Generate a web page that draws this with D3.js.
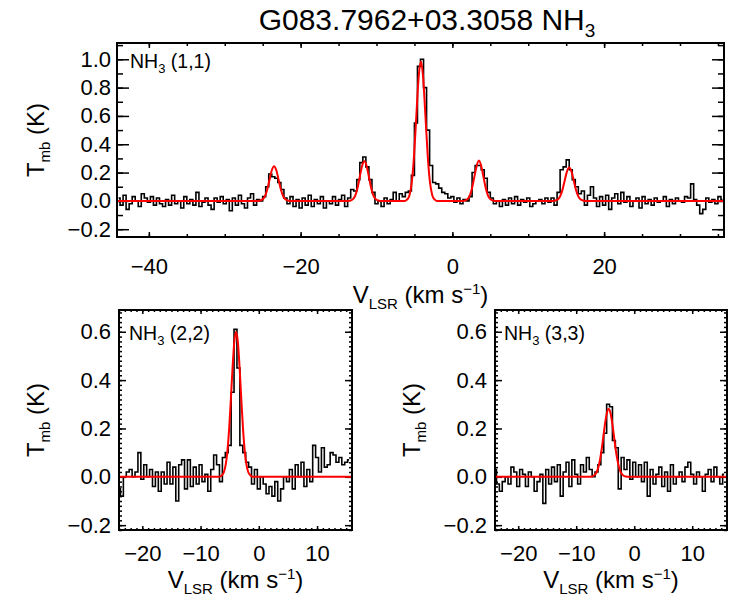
<!DOCTYPE html>
<html>
<head>
  <meta charset="utf-8">
  <title>G083.7962+03.3058 NH3</title>
  <style>
    body { margin: 0; background: #fff; }
    svg text { font-family: "Liberation Sans", Arial, Helvetica, sans-serif; fill: #000; }
    .axis path { display: none; }
    .axis line { stroke: #000; stroke-width: 1.5; }
  </style>
</head>
<body>
  <div id="plot"></div>
  <script src="https://cdn.jsdelivr.net/npm/d3@7/dist/d3.min.js"></script>
  <script>

    // ---- data ----
    // NH3 (1,1): channels start at -44 km/s, 0.4 km/s wide
    let v11Start = -44, v11Step = 0.4;
    let t11 = [
      0.02, -0.03, 0.04, -0.06, -0.02, 0.03, 0.00, -0.04, 0.05, 0.02,
      -0.01, 0.03, -0.03, 0.02, -0.02, -0.04, 0.01, -0.03, 0.04, -0.02,
      0.00, -0.05, 0.03, -0.02, 0.01, -0.03, 0.06, -0.04, -0.01, 0.02,
      -0.03, -0.06, 0.02, -0.01, 0.03, -0.02, 0.01, -0.07, 0.02, -0.03,
      0.04, -0.02, -0.05, 0.02, 0.05, -0.03, 0.01, 0.00, 0.03, 0.10,
      0.19, 0.17, 0.16, 0.13, 0.08, 0.02, -0.02, 0.03, -0.04, 0.01,
      -0.05, 0.02, -0.03, 0.04, -0.04, 0.01, -0.02, 0.03, -0.05, 0.00,
      -0.02, 0.03, -0.03, 0.01, 0.04, -0.04, 0.02, 0.08, 0.07, 0.15,
      0.27, 0.31, 0.24, 0.15, 0.06, -0.02, 0.00, -0.04, 0.02, -0.02,
      0.01, 0.06, 0.00, 0.05, 0.03, 0.06, 0.07, 0.18, 0.55, 0.95,
      1.00, 0.80, 0.50, 0.25, 0.13, 0.12, 0.09, 0.06, 0.05, 0.02,
      0.03, -0.01, 0.02, -0.02, 0.01, 0.00, 0.03, 0.20, 0.25, 0.25,
      0.22, 0.16, 0.06, 0.02, -0.02, 0.00, -0.04, 0.01, -0.03, 0.02,
      -0.02, 0.03, -0.03, 0.01, -0.01, 0.02, -0.04, -0.02, 0.00, 0.01,
      -0.02, 0.02, -0.01, 0.02, -0.03, 0.06, 0.22, 0.24, 0.29, 0.22,
      0.15, 0.10, 0.05, 0.07, -0.03, 0.04, 0.10, 0.02, -0.04, 0.03,
      -0.03, 0.04, -0.06, 0.02, 0.05, -0.02, 0.06, -0.01, 0.03, -0.04,
      0.00, 0.02, -0.05, 0.03, -0.02, 0.01, -0.03, 0.02, -0.01, 0.00,
      0.03, -0.04, 0.01, -0.02, 0.02, 0.00, -0.01, 0.03, 0.02, 0.12,
      0.01, -0.03, -0.09, -0.06, 0.02, -0.01, 0.01, -0.02, 0.03, 0.01
    ];
    let fit11V = [
      -44.2, -25.6, -25.3, -25.0, -24.7, -24.4, -24.1, -23.8, -23.5, -23.2, -22.9, -22.6, -22.3, -22.0, -21.7, -21.4,
      -13.7, -13.4, -13.1, -12.8, -12.5, -12.2, -11.9, -11.6, -11.3, -11.0, -10.7, -10.4, -10.1, -9.8, -9.5,
      -6.25, -5.95, -5.65, -5.35, -5.05, -4.75, -4.45, -4.15, -3.85, -3.55, -3.25, -2.95, -2.65, -2.35, -2.05,
      1.4, 1.7, 2.0, 2.3, 2.6, 2.9, 3.2, 3.5, 3.8, 4.1, 4.4, 4.7, 5.0, 5.3, 5.6,
      13.3, 13.6, 13.9, 14.2, 14.5, 14.8, 15.1, 15.4, 15.7, 16.0, 16.3, 16.6, 16.9, 17.2, 17.5, 35.8
    ];
    let fit11T = [
      0, 0, 0.003, 0.011, 0.033, 0.080, 0.149, 0.216, 0.245, 0.216, 0.149, 0.080, 0.033, 0.011, 0.003, 0,
      0, 0.003, 0.012, 0.038, 0.091, 0.170, 0.247, 0.280, 0.247, 0.170, 0.091, 0.038, 0.012, 0.003, 0,
      0, 0.01, 0.04, 0.13, 0.32, 0.60, 0.87, 0.985, 0.87, 0.60, 0.32, 0.13, 0.04, 0.01, 0,
      0, 0.003, 0.012, 0.038, 0.091, 0.170, 0.247, 0.285, 0.247, 0.170, 0.091, 0.038, 0.012, 0.003, 0,
      0, 0.003, 0.010, 0.032, 0.076, 0.143, 0.207, 0.235, 0.207, 0.143, 0.076, 0.032, 0.010, 0.003, 0, 0
    ];

    // NH3 (2,2) and (3,3): channels start at -24 km/s, 0.5 km/s wide
    let vLowStart = -24, vLowStep = 0.5;
    let t22 = [
      -0.05, -0.08, 0.00, 0.02, 0.03, 0.00, 0.02, 0.10, -0.01, 0.05,
      0.00, 0.03, -0.04, 0.02, -0.06, 0.02, -0.03, 0.06, -0.03, 0.04,
      -0.10, 0.05, 0.07, -0.05, 0.07, -0.04, 0.04, -0.03, 0.05, -0.02,
      0.01, -0.06, 0.03, 0.09, 0.05, -0.02, 0.08, 0.10, 0.13, 0.35,
      0.61, 0.45, 0.13, 0.10, 0.06, 0.04, -0.03, 0.03, -0.05, 0.00,
      -0.03, -0.07, -0.04, -0.08, -0.02, -0.10, -0.05, 0.00, -0.02, 0.03,
      -0.05, 0.05, 0.00, 0.06, -0.04, 0.03, -0.02, 0.13, 0.08, 0.02,
      0.12, 0.04, 0.05, 0.10, 0.09, 0.06, 0.08, 0.05, 0.06, 0.07
    ];
    let fit22V = [
      -24, -6.9, -6.6, -6.3, -6.0, -5.7, -5.4, -5.1, -4.8, -4.5, -4.2, -3.9,
      -3.6, -3.3, -3.0, -2.7, -2.4, -2.1, -1.8, -1.5, -1.2, -0.9, 16
    ];
    let fit22T = [
      0, 0, 0.002, 0.007, 0.019, 0.048, 0.103, 0.195, 0.319, 0.453, 0.559, 0.600,
      0.559, 0.453, 0.319, 0.195, 0.103, 0.048, 0.019, 0.007, 0.002, 0, 0
    ];
    let t33 = [
      0.03, -0.03, -0.06, -0.02, 0.00, -0.03, 0.04, 0.02, -0.04, 0.03,
      0.01, -0.04, 0.02, 0.00, -0.06, -0.02, 0.01, -0.11, 0.03, -0.03,
      0.04, -0.02, 0.05, -0.08, 0.02, 0.06, -0.04, 0.07, 0.01, -0.03,
      0.05, 0.02, 0.08, 0.03, 0.00, 0.02, 0.05, 0.10, 0.18, 0.30,
      0.29, 0.15, 0.12, -0.05, 0.08, 0.03, 0.07, -0.01, 0.06, 0.00,
      0.05, -0.02, 0.06, -0.08, 0.03, -0.03, 0.01, 0.04, -0.04, 0.02,
      -0.06, 0.05, -0.03, 0.00, 0.02, -0.02, 0.04, 0.06, 0.01, -0.03,
      0.02, 0.00, -0.06, 0.01, 0.03, -0.02, 0.04, 0.00, -0.03, 0.01
    ];
    let fit33V = [
      -24, -7.7, -7.4, -7.1, -6.8, -6.5, -6.2, -5.9, -5.6, -5.3, -5.0, -4.7, -4.4,
      -4.1, -3.8, -3.5, -3.2, -2.9, -2.6, -2.3, -2.0, -1.7, -1.4, -1.1, 16
    ];
    let fit33T = [
      0, 0, 0.001, 0.003, 0.008, 0.018, 0.038, 0.070, 0.115, 0.170, 0.224, 0.265, 0.280,
      0.265, 0.224, 0.170, 0.115, 0.070, 0.038, 0.018, 0.008, 0.003, 0.001, 0, 0
    ];

    let xTicksTop = [-40, -20, 0, 20];
    let yTicksTop = [-0.2, 0.0, 0.2, 0.4, 0.6, 0.8, 1.0];
    let xTicksLow = [-20, -10, 0, 10];
    let yTicksLow = [-0.2, 0.0, 0.2, 0.4, 0.6];

    // ---- drawing ----
    let svg = d3.select('#plot')
      .append('svg')
        .attr('width', 750)
        .attr('height', 600);

    function translate(x, y) {
      return 'translate(' + x + ', ' + y + ')';
    }

    function minus(d, digits) {
      return d3.format('.' + digits + 'f')(d).replace('-', '\u2212');
    }

    function channels(start, step, values) {
      return values.map((t, i) => ({v: start + step * i, t: t}));
    }

    function drawPanel(p) {
      let g = svg.append('g').attr('transform', translate(p.left, p.top));

      let x = d3.scaleLinear().domain(p.xDomain).range([0, p.width]);
      let y = d3.scaleLinear().domain(p.yDomain).range([p.height, 0]);

      let clipId = 'clip-' + p.name;
      g.append('clipPath')
        .attr('id', clipId)
        .append('rect')
          .attr('width', p.width)
          .attr('height', p.height);

      // axes: inward ticks on all four sides, labels only bottom and left
      let xMinor = d3.range(Math.ceil(p.xDomain[0] / p.xMinorStep) * p.xMinorStep, p.xDomain[1], p.xMinorStep);
      let yMinor = d3.range(Math.ceil(p.yDomain[0] / p.yMinorStep) * p.yMinorStep, p.yDomain[1], p.yMinorStep);

      let sides = [
        {axis: d3.axisBottom, scale: x, at: translate(0, p.height), major: p.xTicks, minor: xMinor, len: p.xTickLen, label: true, digits: 0},
        {axis: d3.axisTop, scale: x, at: translate(0, 0), major: p.xTicks, minor: xMinor, len: p.xTickLen, label: false},
        {axis: d3.axisLeft, scale: y, at: translate(0, 0), major: p.yTicks, minor: yMinor, len: p.yTickLen, label: true, digits: 1},
        {axis: d3.axisRight, scale: y, at: translate(p.width, 0), major: p.yTicks, minor: yMinor, len: p.yTickLen, label: false}
      ];

      sides.forEach(s => {
        g.append('g')
          .attr('class', 'axis')
          .attr('transform', s.at)
          .call(s.axis(s.scale).tickValues(s.minor).tickSize(-s.len[1]).tickFormat(''));

        let major = g.append('g')
          .attr('class', 'axis')
          .attr('transform', s.at)
          .call(s.axis(s.scale)
            .tickValues(s.major)
            .tickSize(-s.len[0])
            .tickPadding(s.axis === d3.axisBottom ? p.xLabelPad : p.yLabelPad)
            .tickFormat(s.label ? (d => minus(d, s.digits)) : ''));
        major.attr('font-size', null).attr('font-family', null);
        major.selectAll('text').style('font-size', p.tickFont + 'px');
      });

      let step = d3.line()
        .x(d => x(d.v))
        .y(d => y(d.t))
        .curve(d3.curveStep);

      g.append('path')
        .datum(p.spectrum)
        .attr('clip-path', 'url(#' + clipId + ')')
        .attr('d', step)
        .attr('fill', 'none')
        .attr('stroke', '#000')
        .attr('stroke-width', 1.6);

      let fitLine = d3.line()
        .x(d => x(d[0]))
        .y(d => y(d[1]))
        .curve(d3.curveMonotoneX);

      g.append('path')
        .datum(d3.zip(p.fitV, p.fitT))
        .attr('clip-path', 'url(#' + clipId + ')')
        .attr('d', fitLine)
        .attr('fill', 'none')
        .attr('stroke', '#ff0000')
        .attr('stroke-width', 2);

      g.append('rect')
        .attr('width', p.width)
        .attr('height', p.height)
        .attr('fill', 'none')
        .attr('stroke', '#000')
        .attr('stroke-width', 2);

      // line label
      let lab = g.append('text')
        .attr('x', p.labelX)
        .attr('y', p.labelY)
        .style('font-size', '19.5px')
        .text('NH');
      lab.append('tspan').attr('dy', 5).style('font-size', '13px').text('3');
      lab.append('tspan').attr('dy', -5).text(' (' + p.transition + ')');

      // x title
      let xt = g.append('text')
        .attr('x', p.width / 2)
        .attr('y', p.xTitleY)
        .attr('text-anchor', 'middle')
        .style('font-size', '24px')
        .text('V');
      xt.append('tspan').attr('dy', 6).style('font-size', '15px').text('LSR');
      xt.append('tspan').attr('dy', -6).text(' (km s');
      xt.append('tspan').attr('dy', -9).style('font-size', '15px').text('\u22121');
      xt.append('tspan').attr('dy', 9).text(')');

      // y title
      let yt = g.append('text')
        .attr('transform', translate(p.yTitleX, p.height / 2) + ' rotate(-90)')
        .attr('text-anchor', 'middle')
        .style('font-size', '24px')
        .text('T');
      yt.append('tspan').attr('dy', 6).style('font-size', '15px').text('mb');
      yt.append('tspan').attr('dy', -6).text(' (K)');
    }

    svg.append('text')
      .attr('x', 427)
      .attr('y', 30)
      .attr('text-anchor', 'middle')
      .style('font-size', '30px')
      .text('G083.7962+03.3058 NH')
      .append('tspan')
        .attr('dy', 7)
        .style('font-size', '19px')
        .text('3');

    drawPanel({
      name: 'n11', left: 117, top: 43, width: 607, height: 194,
      xDomain: [-44.2, 35.8], yDomain: [-0.255, 1.115],
      xTicks: xTicksTop, yTicks: yTicksTop, xMinorStep: 5, yMinorStep: 0.1,
      xTickLen: [5, 3], yTickLen: [12, 6],
      xLabelPad: 21, yLabelPad: 6, tickFont: 22,
      xTitleY: 260, yTitleX: -73,
      labelX: 13, labelY: 25, transition: '1,1',
      spectrum: channels(v11Start, v11Step, t11), fitV: fit11V, fitT: fit11T
    });

    drawPanel({
      name: 'n22', left: 119, top: 310, width: 233, height: 220,
      xDomain: [-24, 16], yDomain: [-0.22, 0.69],
      xTicks: xTicksLow, yTicks: yTicksLow, xMinorStep: 1, yMinorStep: 0.02,
      xTickLen: [4, 2], yTickLen: [7, 3],
      xLabelPad: 15, yLabelPad: 8, tickFont: 22,
      xTitleY: 278, yTitleX: -75,
      labelX: 10, labelY: 30, transition: '2,2',
      spectrum: channels(vLowStart, vLowStep, t22), fitV: fit22V, fitT: fit22T
    });

    drawPanel({
      name: 'n33', left: 495, top: 310, width: 232, height: 220,
      xDomain: [-24, 16], yDomain: [-0.22, 0.69],
      xTicks: xTicksLow, yTicks: yTicksLow, xMinorStep: 1, yMinorStep: 0.02,
      xTickLen: [4, 2], yTickLen: [7, 3],
      xLabelPad: 15, yLabelPad: 8, tickFont: 22,
      xTitleY: 278, yTitleX: -75,
      labelX: 9, labelY: 30, transition: '3,3',
      spectrum: channels(vLowStart, vLowStep, t33), fitV: fit33V, fitT: fit33T
    });

  </script>
</body>
</html>
